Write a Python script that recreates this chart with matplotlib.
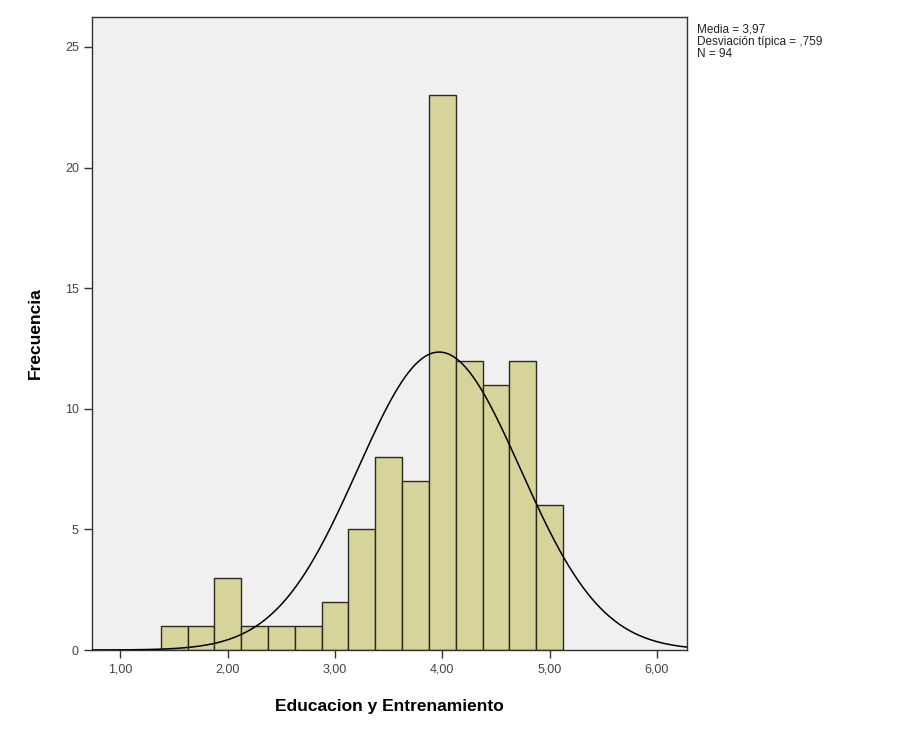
import numpy as np
import matplotlib.pyplot as plt

plt.rcParams['font.family'] = ['Liberation Sans', 'DejaVu Sans']

# Histogram data (bin centres, counts)
bin_centers = [1.50, 1.75, 2.00, 2.25, 2.50, 2.75, 3.00, 3.25,
               3.50, 3.75, 4.00, 4.25, 4.50, 4.75, 5.00]
counts = [1, 1, 3, 1, 1, 1, 2, 5, 8, 7, 23, 12, 11, 12, 6]
bin_width = 0.25

mean = 3.97
sd = 0.759
n = 94

x_ticks = [1, 2, 3, 4, 5, 6]
y_ticks = [0, 5, 10, 15, 20, 25]

fig = plt.figure(figsize=(9.03, 7.31), dpi=100)
ax = fig.add_axes([0.1019, 0.1108, 0.6589, 0.8659])
ax.set_facecolor('#f0f0f0')

ax.bar(bin_centers, counts, width=bin_width, color='#d6d49a',
       edgecolor='#2b2b1c', linewidth=1.0, zorder=2)

# normal curve scaled to counts
xs = np.linspace(0.735, 6.28, 400)
ys = n * bin_width / (sd * np.sqrt(2 * np.pi)) * np.exp(-0.5 * ((xs - mean) / sd) ** 2)
ax.plot(xs, ys, color='black', linewidth=1.1, zorder=3)

ax.set_xlim(0.735, 6.28)
ax.set_ylim(0, 26.24)
ax.set_xticks(x_ticks)
ax.set_xticklabels([f'{v:.2f}'.replace('.', ',') for v in x_ticks])
ax.set_yticks(y_ticks)
ax.tick_params(axis='both', direction='out', length=6, width=1,
               labelsize=9, labelcolor='#444444', color='#333333')

for s in ax.spines.values():
    s.set_color('#333333')
    s.set_linewidth(1.0)

ax.set_xlabel('Educacion y Entrenamiento', fontsize=12.5, fontweight='bold', labelpad=17)
ax.set_ylabel('Frecuencia', fontsize=12.5, fontweight='bold', labelpad=16)

fig.text(0.772, 0.968, 'Media = 3,97\nDesviación típica = ,759\nN = 94',
         fontsize=8.5, va='top', ha='left', color='#222222', linespacing=1.05)

fig.savefig('out.png', dpi=100, facecolor='white')
